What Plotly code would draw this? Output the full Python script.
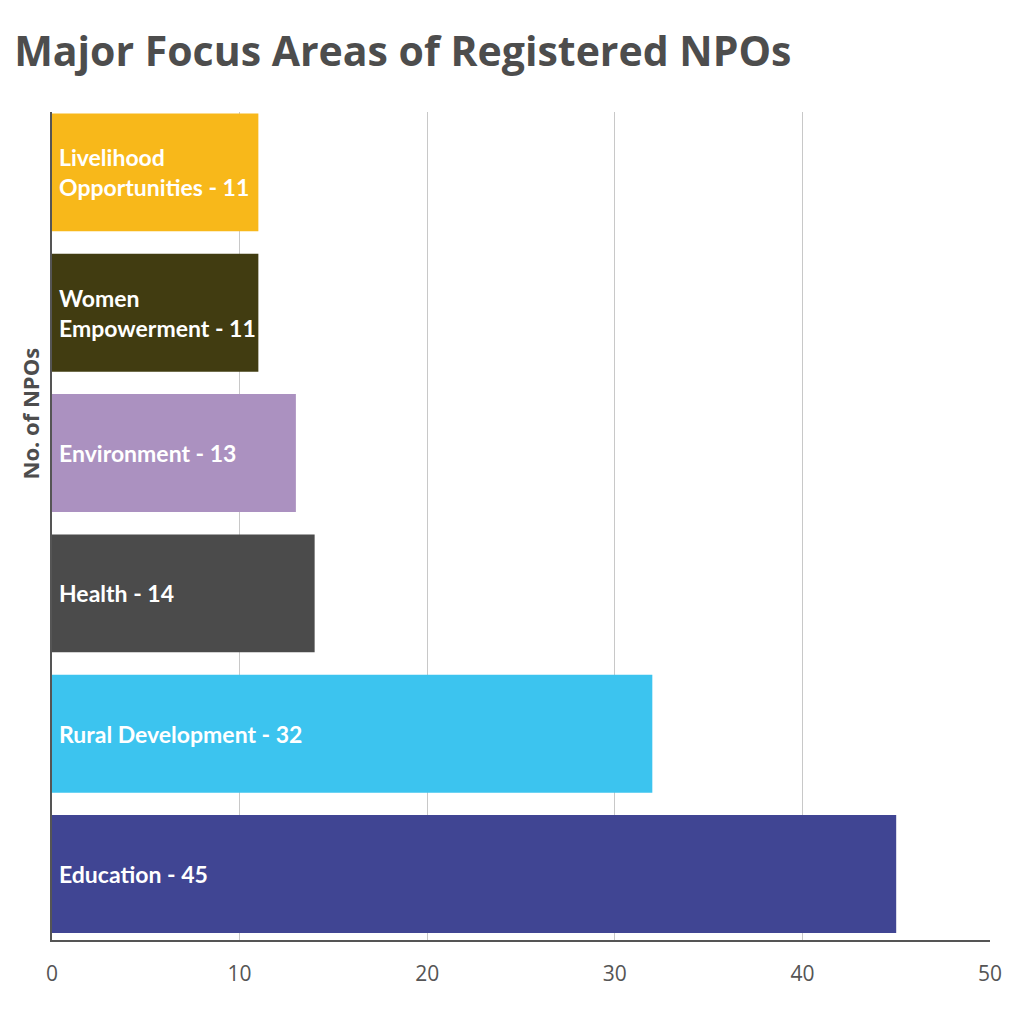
import plotly.graph_objects as go

# data (bottom to top)
areas = ["Education", "Rural Development", "Health", "Environment",
         "Women Empowerment", "Livelihood Opportunities"]
npo_counts = [45, 32, 14, 13, 11, 11]
bar_labels = ["Education - 45", "Rural Development - 32", "Health - 14",
              "Environment - 13", "Women<br>Empowerment - 11",
              "Livelihood<br>Opportunities - 11"]
bar_colors = ["#404593", "#3CC4EF", "#4B4B4B", "#AB91C0", "#413C11", "#F8B81A"]
x_ticks = [0, 10, 20, 30, 40, 50]

FONT = "Open Sans"
GREY = "#4d4d4d"

fig = go.Figure()
fig.add_trace(go.Bar(
    x=npo_counts, y=areas, orientation="h",
    marker=dict(color=bar_colors, line=dict(width=0)),
    width=0.84, hoverinfo="x+y", showlegend=False,
))

# labels inside the bars, left aligned
for a, lab in zip(areas, bar_labels):
    fig.add_annotation(x=0, y=a, xref="x", yref="y", text=lab,
                       xanchor="left", yanchor="middle", xshift=5,
                       align="left", showarrow=False,
                       font=dict(family="Lato", size=23, color="white", weight="bold"))

fig.add_annotation(text="No. of NPOs", xref="paper", yref="paper",
                   x=0, y=0.636, xshift=-22, textangle=-90,
                   showarrow=False, xanchor="center", yanchor="middle",
                   font=dict(family=FONT, size=22, color=GREY, weight="bold"))

fig.update_layout(
    width=1024, height=1024,
    margin=dict(l=44, r=42, t=104, b=92),
    paper_bgcolor="white", plot_bgcolor="white",
    title=dict(text="Major Focus Areas of Registered NPOs",
               x=0.006, xanchor="left", y=0.957, yanchor="middle",
               font=dict(family=FONT, size=41, color=GREY, weight="bold")),
    bargap=0.16,
)
fig.update_xaxes(range=[0, 50], tickvals=x_ticks, showgrid=True,
                 gridcolor="#c8c8c8", gridwidth=1, zeroline=False,
                 showline=True, linecolor="#555555", linewidth=2,
                 ticks="", ticklabelstandoff=14,
                 tickfont=dict(family=FONT, size=21, color="#555555"))
fig.update_yaxes(range=[-0.47, 5.43], showticklabels=False, showgrid=False,
                 showline=True, linecolor="#555555", linewidth=1.5,
                 zeroline=False, ticks="")

fig.write_html("out.html")
